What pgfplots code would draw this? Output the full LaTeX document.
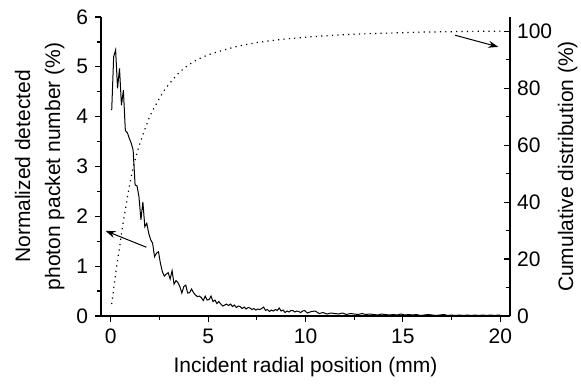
\documentclass[border=0pt]{standalone}
\usepackage{fontspec}
\setmainfont{Liberation Sans}
\usepackage{pgfplots}
\pgfplotsset{compat=1.18}
\usetikzlibrary{arrows.meta}
\pgfplotsset{
  mystyle/.style={
    width=204.5pt, height=149.5pt, scale only axis,
    xmin=-0.5, xmax=20.5,
    tick label style={font=\fontsize{10.5}{12}\selectfont, black},
    label style={font=\fontsize{10.5}{12.5}\selectfont, black},
    /pgf/number format/assume math mode=true,
    major tick length=3pt, minor tick length=1.8pt,
    axis line style={line width=0.6pt, -, black},
    every tick/.style={line width=0.6pt, black},
  }
}
\begin{document}
\begin{tikzpicture}
\useasboundingbox (-50.5pt,-35pt) rectangle (240pt,158pt);
\begin{axis}[mystyle,
  axis x line*=bottom, axis y line*=left,
  ymin=0, ymax=6, ytick={0,1,2,3,4,5,6},
  xtick={0,5,10,15,20}, minor x tick num=1, minor y tick num=1,
  tick align=outside,
  xlabel={Incident radial position (mm)},
  ylabel={Normalized detected\\[2.5pt]photon packet number (\%)},
  ylabel style={align=center},
  ylabel shift=-1pt,
]
\addplot[black, line width=0.5pt, mark=none] coordinates {
(0.05,4.13)(0.15,5.20)(0.25,5.34)(0.35,4.57)(0.45,4.97)(0.55,4.23)(0.65,4.53)(0.75,3.72)(0.85,3.68)(0.95,3.57)
(1.05,3.47)(1.15,3.33)(1.25,2.63)(1.35,2.61)(1.45,2.39)(1.55,1.93)(1.65,2.29)(1.75,1.79)(1.85,1.86)(1.95,1.66)
(2.05,1.53)(2.15,1.46)(2.25,1.19)(2.35,1.26)(2.45,1.29)(2.55,1.06)(2.65,0.89)(2.75,0.80)(2.85,0.84)(2.95,0.87)
(3.05,0.74)(3.15,0.91)(3.25,0.64)(3.35,0.71)(3.45,0.67)(3.55,0.59)(3.65,0.46)(3.75,0.59)(3.85,0.62)(3.95,0.46)
(4.05,0.47)(4.15,0.54)(4.25,0.47)(4.35,0.42)(4.45,0.39)(4.55,0.40)(4.65,0.37)(4.75,0.31)(4.85,0.40)(4.95,0.32)
(5.05,0.33)(5.15,0.40)(5.25,0.29)(5.35,0.32)(5.45,0.25)(5.55,0.29)(5.65,0.24)(5.75,0.20)(5.85,0.22)(5.95,0.24)
(6.05,0.21)(6.15,0.24)(6.25,0.19)(6.35,0.22)(6.45,0.17)(6.55,0.20)(6.65,0.19)(6.75,0.15)(6.85,0.18)(6.95,0.14)
(7.05,0.17)(7.15,0.16)(7.25,0.13)(7.35,0.15)(7.45,0.12)(7.55,0.14)(7.65,0.13)(7.75,0.15)(7.85,0.18)(7.95,0.11)
(8.05,0.13)(8.15,0.09)(8.25,0.12)(8.35,0.10)(8.45,0.13)(8.55,0.11)(8.65,0.16)(8.75,0.10)(8.85,0.12)(8.95,0.07)
(9.05,0.10)(9.15,0.08)(9.25,0.11)(9.35,0.11)(9.45,0.08)(9.55,0.10)(9.65,0.09)(9.75,0.07)(9.85,0.10)(9.95,0.11)
(10.1,0.06)(10.3,0.09)(10.5,0.10)(10.7,0.05)(10.9,0.07)(11.1,0.04)(11.3,0.06)(11.5,0.05)(11.7,0.04)(11.9,0.06)
(12.1,0.03)(12.3,0.05)(12.5,0.04)(12.7,0.03)(12.9,0.05)(13.1,0.03)(13.3,0.04)(13.5,0.03)(13.7,0.02)(13.9,0.04)
(14.1,0.03)(14.3,0.02)(14.5,0.03)(14.7,0.02)(14.9,0.04)(15.1,0.02)(15.3,0.03)(15.5,0.02)(15.7,0.03)(15.9,0.01)
(16.1,0.02)(16.3,0.03)(16.5,0.02)(16.7,0.01)(16.9,0.02)(17.1,0.03)(17.3,0.01)(17.5,0.02)(17.7,0.01)(17.9,0.02)
(18.1,0.01)(18.3,0.02)(18.5,0.01)(18.7,0.02)(18.9,0.01)(19.1,0.02)(19.3,0.01)(19.5,0.02)(19.7,0.01)(19.9,0.02)
(20.05,0.01)
};
\draw[-{Stealth[length=5pt,width=3.5pt]}, line width=0.5pt, black] (axis cs:1.83,1.38) -- (axis cs:-0.27,1.71);
\end{axis}
\begin{axis}[mystyle,
  axis x line=none, axis y line*=right,
  ymin=0, ymax=105, ytick={0,20,40,60,80,100},
  minor y tick num=1,
  tick align=inside,
  ylabel={Cumulative distribution (\%)},
  ylabel shift=-4pt,
]
\addplot[black, line width=0.6pt, dash pattern=on 0.6pt off 2.1pt, mark=none] coordinates {
(0.05,4.2)(0.15,9.5)(0.25,14.6)(0.35,19.5)(0.45,24.0)(0.55,28.8)(0.65,33.3)(0.75,37.3)(0.85,41.5)(0.95,45.2)
(1.05,48.9)(1.15,52.2)(1.25,54.8)(1.35,57.3)(1.45,59.6)(1.55,61.6)(1.65,63.6)(1.75,65.5)(1.85,67.3)(1.95,69.2)
(2.1,71.5)(2.3,74.0)(2.5,76.5)(2.7,78.8)(2.9,80.6)(3.1,82.3)(3.3,83.9)(3.5,85.4)(3.75,86.9)(4.0,88.2)
(4.25,89.3)(4.5,90.2)(4.75,91.0)(5.0,91.7)(5.5,92.8)(6.0,93.8)(6.5,94.7)(7.0,95.4)(7.5,96.0)(8.0,96.5)
(8.5,96.9)(9.0,97.3)(9.5,97.6)(10,97.9)(11,98.4)(12,98.8)(13,99.1)(14,99.3)(15,99.5)(16,99.7)
(17,99.8)(18,99.9)(19,100)(20,100)
};
\draw[-{Stealth[length=5pt,width=3.5pt]}, line width=0.5pt, black] (axis cs:17.68,98.6) -- (axis cs:19.9,94.5);
\end{axis}
\end{tikzpicture}
\end{document}
